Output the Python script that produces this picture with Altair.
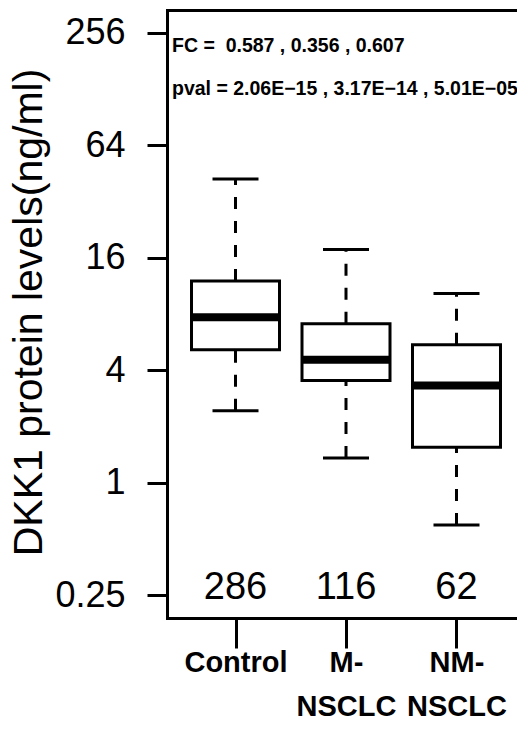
import altair as alt
import pandas as pd

# ---- data ----
groups = ["Control", "M-NSCLC", "NM-NSCLC"]
whisker_low = [2.43, 1.36, 0.595]
q1 = [5.15, 3.53, 1.55]
median = [7.69, 4.55, 3.32]
q3 = [12.0, 7.09, 5.48]
whisker_high = [42.2, 17.7, 10.3]
counts = [286, 116, 62]
fc_values = ["0.587", "0.356", "0.607"]
pval_values = ["2.06E\u221215", "3.17E\u221214", "5.01E\u221205"]
y_ticks = [0.25, 1, 4, 16, 64, 256]

FONT = "Liberation Sans, Arial"

df = pd.DataFrame({
    "group": groups, "wlo": whisker_low, "q1": q1, "med": median,
    "q3": q3, "whi": whisker_high, "n": counts,
})

xscale = alt.Scale(type="point", padding=0.62, domain=groups)
yscale = alt.Scale(type="log", base=2, domain=[2 ** -2.4, 2 ** 8.4], nice=False)

yaxis = alt.Axis(
    values=y_ticks, format="~g", title="DKK1 protein levels(ng/ml)",
    labelFont=FONT, labelFontSize=36, labelColor="black", labelPadding=22,
    labelBaseline="middle",
    tickSize=20, tickWidth=3, tickColor="black",
    domainWidth=3, domainColor="black", domainCap="square", grid=False,
    titleFont=FONT, titleFontSize=41, titleFontWeight="normal", titleColor="black",
    titleAngle=270, titleX=-138, titleY=302, titleAlign="center", titleBaseline="middle",
)

label_expr = ("indexof(datum.label, '-') < 0 ? datum.label : "
              "[substring(datum.label, 0, indexof(datum.label, '-') + 1), "
              "substring(datum.label, indexof(datum.label, '-') + 1)]")

xaxis_bottom = alt.Axis(
    orient="bottom", title=None, labelAngle=0, labelFont=FONT, labelFontWeight="bold",
    labelFontSize=29, labelColor="black", labelPadding=0, labelBaseline="top",
    labelLineHeight=44, labelOverlap=False, labelExpr=label_expr,
    tickSize=30, tickWidth=3, tickColor="black",
    domainWidth=3, domainColor="black", domainCap="square", grid=False,
)
xaxis_top = alt.Axis(orient="top", title=None, labels=False, ticks=False,
                     domainWidth=3, domainColor="black", domainCap="square", grid=False)


def X(axis=None):
    return alt.X("group:N", sort=groups, scale=xscale, axis=axis, title=None)


def Y(field):
    return alt.Y(field, scale=yscale, axis=yaxis)


base = alt.Chart(df)

whisk_up = base.mark_rule(strokeWidth=3, strokeDash=[12, 12], color="black").encode(
    x=X(), y=Y("q3:Q"), y2="whi:Q")
whisk_lo = base.mark_rule(strokeWidth=3, strokeDash=[12, 12], color="black").encode(
    x=X(), y=Y("wlo:Q"), y2="q1:Q")
cap_hi = base.mark_tick(size=46, thickness=3, color="black", opacity=1).encode(
    x=X(), y=Y("whi:Q"))
cap_lo = base.mark_tick(size=46, thickness=3, color="black", opacity=1).encode(
    x=X(), y=Y("wlo:Q"))
box = base.mark_bar(size=88, fill="white", stroke="black", strokeWidth=3, opacity=1).encode(
    x=X(xaxis_bottom), y=Y("q1:Q"), y2="q3:Q")
med = base.mark_tick(size=88, thickness=8, color="black", opacity=1).encode(
    x=X(), y=Y("med:Q"))
count_txt = base.mark_text(font=FONT, fontSize=38, baseline="middle", dy=-7,
                           color="black").encode(
    x=X(), y=alt.Y(datum=y_ticks[0], scale=yscale, axis=yaxis), text="n:Q")
frame = base.mark_point(opacity=0).encode(x=X(xaxis_top), y=Y("med:Q"))

fc_text = "FC =\u00a0 " + " , ".join(fc_values)
pval_text = "pval = " + " , ".join(pval_values)
ann1 = alt.Chart(pd.DataFrame({"a": [0]})).mark_text(
    text=fc_text, font=FONT, fontWeight="bold", fontSize=19.5, align="left",
    baseline="middle", color="black").encode(x=alt.value(5), y=alt.value(36))
ann2 = alt.Chart(pd.DataFrame({"a": [0]})).mark_text(
    text=pval_text, font=FONT, fontWeight="bold", fontSize=19.5, align="left",
    baseline="middle", color="black").encode(x=alt.value(5), y=alt.value(79))

chart = alt.layer(
    whisk_up, whisk_lo, box, med, cap_hi, cap_lo, count_txt, frame, ann1, ann2
).resolve_axis(x="independent").properties(
    width=358, height=608,
    padding={"left": 159, "top": 2, "right": -8, "bottom": 98},
    autosize=alt.AutoSizeParams(type="none"),
    background="white",
).configure_view(stroke=None)

chart.save("out.html", embed_options={"renderer": "svg", "actions": False})
